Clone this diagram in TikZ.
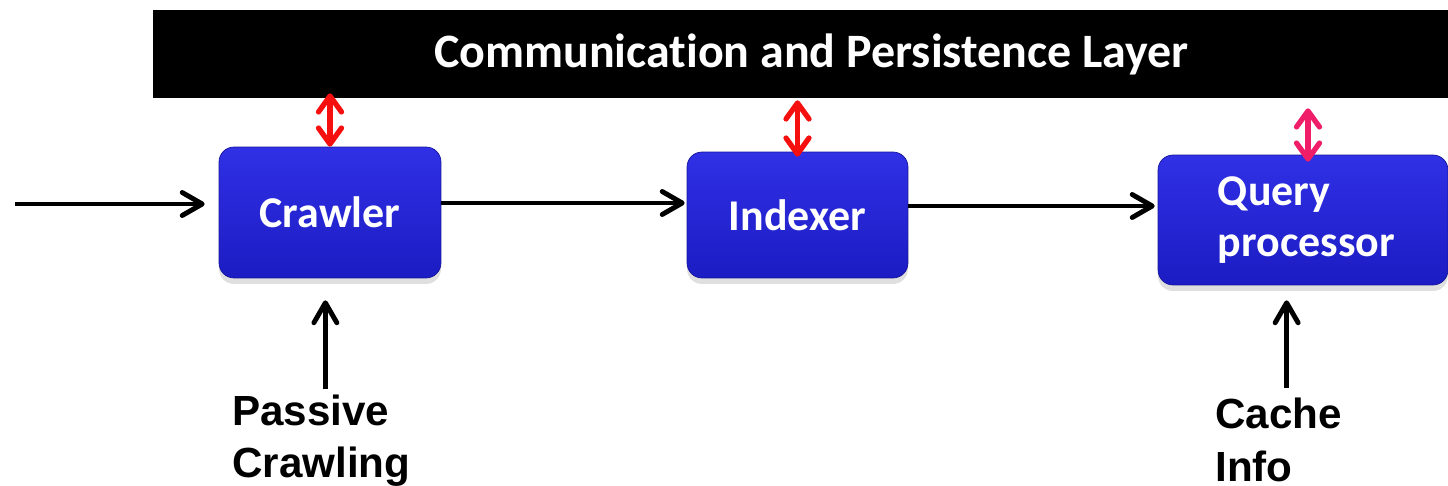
\documentclass[tikz,border=0pt]{standalone}
\usepackage{fontspec}
\setmainfont{Carlito}[Ligatures=NoCommon]
\newfontfamily\arialfont{Liberation Sans}
\usetikzlibrary{arrows.meta,positioning,shadows}

\definecolor{stagetop}{RGB}{48,48,230}
\definecolor{stagebot}{RGB}{28,28,195}
\definecolor{linkred}{RGB}{245,15,15}
\definecolor{linkpink}{RGB}{240,30,105}

\begin{document}
\begin{tikzpicture}[
    x=0.02cm, y=-0.02cm,
    layer/.style={rectangle, fill=black, text=white, inner sep=0pt, minimum width=25.9cm, minimum height=1.76cm, font=\fontsize{27.3}{30}\selectfont\bfseries},
    stage/.style={rectangle, rounded corners=0.3cm, top color=stagetop, bottom color=stagebot, draw=stagebot!80!black, thin, text=white, align=left, font=\fontsize{25}{29}\selectfont\bfseries, drop shadow={opacity=0.25, shadow xshift=0pt, shadow yshift=-0.12cm}},
    note/.style={inner sep=0pt, anchor=base west, align=left, font=\arialfont\fontsize{24}{30}\selectfont\bfseries},
    flow/.style={-{Straight Barb[round, length=4mm, width=4.6mm]}, line width=2.8pt},
    link/.style={{Straight Barb[round, length=3.2mm, width=4.6mm]}-{Straight Barb[round, length=3.2mm, width=4.6mm]}, line width=3pt, draw=#1},
    link/.default=linkred
]
    \useasboundingbox (0,0) rectangle (1448,486);

    \node [layer] (layer) at (800.5,54) {\hspace*{0.44cm}Communication and Persistence Layer};

    \node [stage, minimum width=4.44cm, minimum height=2.62cm] (crawler) at (330,212.5) {Crawler};
    \node [stage, minimum width=4.42cm, minimum height=2.52cm] (indexer) at (797.5,215) {Indexer};
    \node [stage, minimum width=5.8cm, minimum height=2.6cm] (query) at (1303,220) {\hspace*{0.14cm}Query\\\hspace*{0.14cm}processor};

    % base anchor sits on the last line
    \node [note] (passive) at (232,478) {Passive\\Crawling};
    \node [note] (cache) at (1215,481) {Cache\\Info};
    \coordinate (source) at (15,204);

    % links to the layer
    \draw [link] (crawler.north) -- ([yshift=0.1cm]crawler.north |- layer.south);
    \draw [link] ([yshift=-0.1cm]indexer.north) -- ([yshift=-0.04cm]indexer.north |- layer.south);
    \draw [link=linkpink] ([yshift=-0.14cm,xshift=0.1cm]query.north) -- ([yshift=-0.2cm,xshift=0.1cm]query.north |- layer.south);

    % main flow
    \draw [flow, shorten >=0.28cm] (source) -- (source -| crawler.west);
    \draw [flow, shorten >=0.04cm] ([yshift=0.19cm]crawler.east) -- ([yshift=0.19cm]crawler.east -| indexer.west);
    \draw [flow, shorten >=0.06cm] ([yshift=0.18cm]indexer.east) -- ([yshift=0.18cm]indexer.east -| query.west);

    % inputs from below
    \draw [flow, shorten <=0.1cm, shorten >=0.44cm] ([xshift=0.08cm]passive.north) -- ([xshift=0.08cm]passive.north |- crawler.south);
    \draw [flow, shorten <=0.18cm, shorten >=0.3cm] ([xshift=0.16cm]cache.north) -- ([xshift=0.16cm]cache.north |- query.south);
\end{tikzpicture}
\end{document}
